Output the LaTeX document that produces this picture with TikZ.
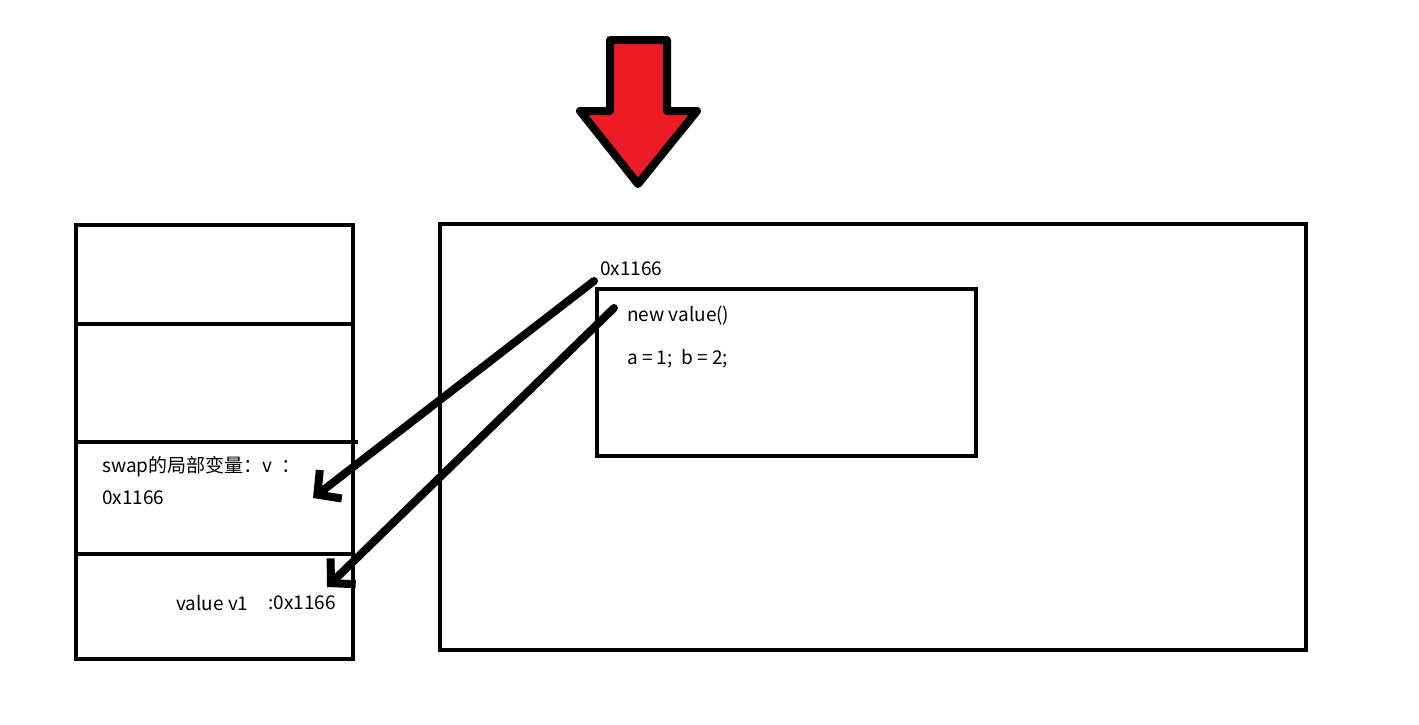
\documentclass[tikz,border=0pt]{standalone}
\usepackage{fontspec}
\setmainfont{Noto Sans CJK SC}
\usetikzlibrary{arrows.meta}

\begin{document}
\begin{tikzpicture}[x=1pt, y=-1pt,
  box/.style={draw, line width=4pt, inner sep=0pt},
  txt/.style={anchor=west, inner sep=0pt, font=\fontsize{19}{22}\selectfont},
  pointer/.style={line width=8pt, line cap=round, -{Straight Barb[length=17pt, width=36pt, line width=8pt]}}]
        \useasboundingbox (0,0) rectangle (1419,724);
        % red arrow
        \draw[line width=8pt, line join=round, fill={rgb,255:red,237;green,28;blue,36}]
          (610,40) -- (667,40) -- (667,111) -- (697,111) -- (638,184) -- (580,111) -- (610,111) -- cycle;
        % stack
        \node[box, minimum width=277pt, minimum height=434pt] (stack) at (214.5,442) {};
        \draw[line width=4pt] (76,324) -- (351,324);
        \draw[line width=4pt] (76,442) -- (358,442);
        \draw[line width=4pt] (76,554) -- (353,554);
        \node[txt] (v) at (102,467) {swap的局部变量：v\ \ ：};
        \node[txt] (vaddr) at (102,498) {0x1166};
        \node[txt] (v1) at (176,603) {value v1};
        \node[txt] (v1addr) at (268,603) {:0x1166};
        % heap
        \node[box, minimum width=866pt, minimum height=426pt] (heap) at (873,437) {};
        \node[box, minimum width=379pt, minimum height=167pt] (obj) at (786.5,372.5) {};
        \node[txt] (addr) at (600,269) {0x1166};
        \node[txt] (newobj) at (627,316) {new value()};
        \node[txt] (fields) at (627,359) {a = 1;\ \ b = 2;};
        \coordinate (p1) at (594,281);
        \coordinate (p2) at (614,308);
        \coordinate (t1) at (313,498);
        \coordinate (t2) at (327,587);
        \draw[pointer] (p1) -- (t1);
        \draw[pointer] (p2) -- (t2);
\end{tikzpicture}
\end{document}
